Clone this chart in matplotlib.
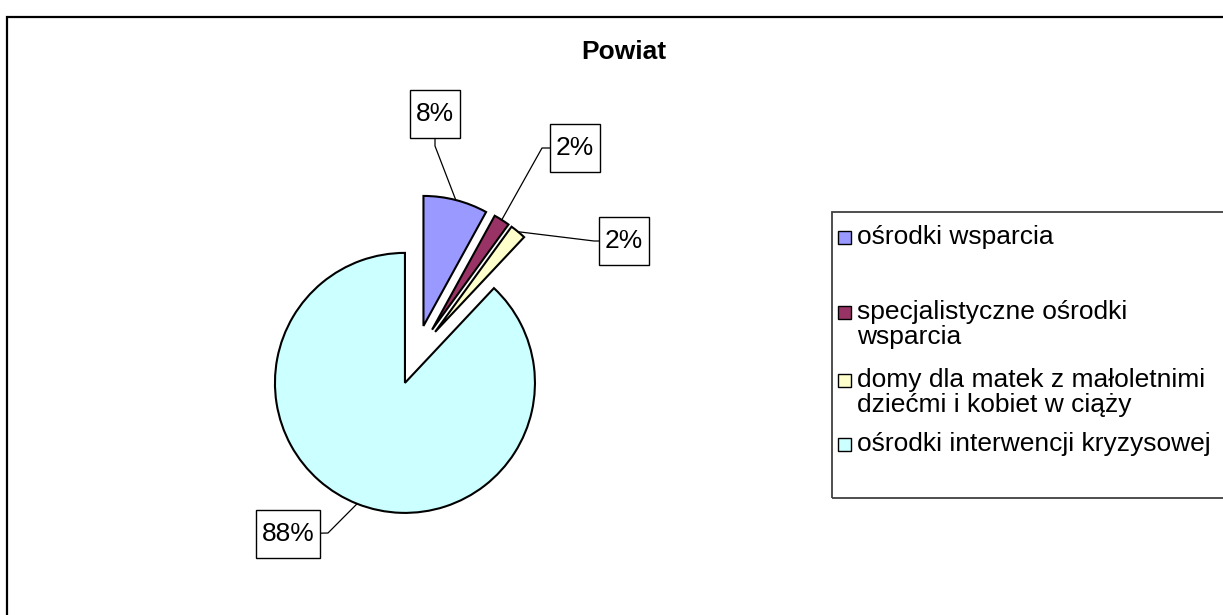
import numpy as np
import matplotlib
matplotlib.use("Agg")
import matplotlib.pyplot as plt
from matplotlib.patches import Rectangle

# ---- data ----
categories = [
    "ośrodki wsparcia",
    "specjalistyczne ośrodki\nwsparcia",
    "domy dla matek z małoletnimi\ndziećmi i kobiet w ciąży",
    "ośrodki interwencji kryzysowej",
]
values = [8, 2, 2, 88]
colors = ["#9999FF", "#993366", "#FFFFCC", "#CCFFFF"]
title = "Powiat"

# ---- layout (pixel coordinates, y measured from top) ----
W, H = 1223, 615
FONT = "Liberation Sans"
FS = 19.0
plt.rcParams["font.family"] = [FONT, "DejaVu Sans"]

fig = plt.figure(figsize=(W / 100, H / 100), dpi=100)
ax = fig.add_axes([0, 0, 1, 1])
ax.set_xlim(0, W)
ax.set_ylim(0, H)


def Y(p):
    return H - p


# outer chart frame (extends beyond the right and bottom edges)
ax.add_patch(Rectangle((7, Y(17) - 900), 2000, 900, fill=False,
                       ec="black", lw=1.6, clip_on=False, zorder=1))

# title
ax.text(624, Y(52), title, ha="center", va="center", fontsize=FS,
        fontweight="bold", zorder=6)

# pie
wedges, _ = ax.pie(values, colors=colors, startangle=90, counterclock=False,
                   center=(416, Y(355)), radius=130, explode=[30] * len(values),
                   wedgeprops=dict(edgecolor="black", linewidth=1.5))
ax.set_xlim(0, W)
ax.set_ylim(0, H)
ax.set_aspect("auto")
ax.axis("off")

# data labels with leader lines
total = float(sum(values))
label_centers = [(435, 114), (575, 148), (624, 241), (288, 534)]
elbows = [(435, 146), (542, 148), (594, 241), (328, 533)]
fig.canvas.draw()
renderer = fig.canvas.get_renderer()
box_h = 48
box_padx = 6
for w, v, (lx, ly), (ex, ey) in zip(wedges, values, label_centers, elbows):
    tm = np.deg2rad(0.5 * (w.theta1 + w.theta2))
    cx, cy = w.center
    px = cx + w.r * np.cos(tm)
    py = cy + w.r * np.sin(tm)
    ax.plot([px, ex, lx], [py, Y(ey), Y(ly)], color="black", lw=0.9, zorder=4)
    t = ax.text(lx, Y(ly), f"{100 * v / total:.0f}%", ha="center",
                va="center", fontsize=FS, zorder=6)
    tw = t.get_window_extent(renderer).width
    bw = tw + 2 * box_padx
    ax.add_patch(Rectangle((lx - bw / 2, Y(ly) - box_h / 2), bw, box_h,
                           fc="white", ec="black", lw=1.0, zorder=5))

# legend (manual, Excel-like)
ax.add_patch(Rectangle((832, Y(498)), 600, 498 - 212, fill=False,
                       ec="#404040", lw=1.3, clip_on=False, zorder=3))
entry_y = [237, 312, 380, 444]
line_gap = 25
for cat, col, y0 in zip(categories, colors, entry_y):
    ax.add_patch(Rectangle((838, Y(y0) - 6.5), 13, 13, fc=col, ec="black",
                           lw=1.0, zorder=4))
    for j, line in enumerate(cat.split("\n")):
        ax.text(857, Y(y0 + j * line_gap), line, ha="left", va="center",
                fontsize=FS, zorder=5)

fig.savefig("out.png", dpi=100, facecolor="white")
